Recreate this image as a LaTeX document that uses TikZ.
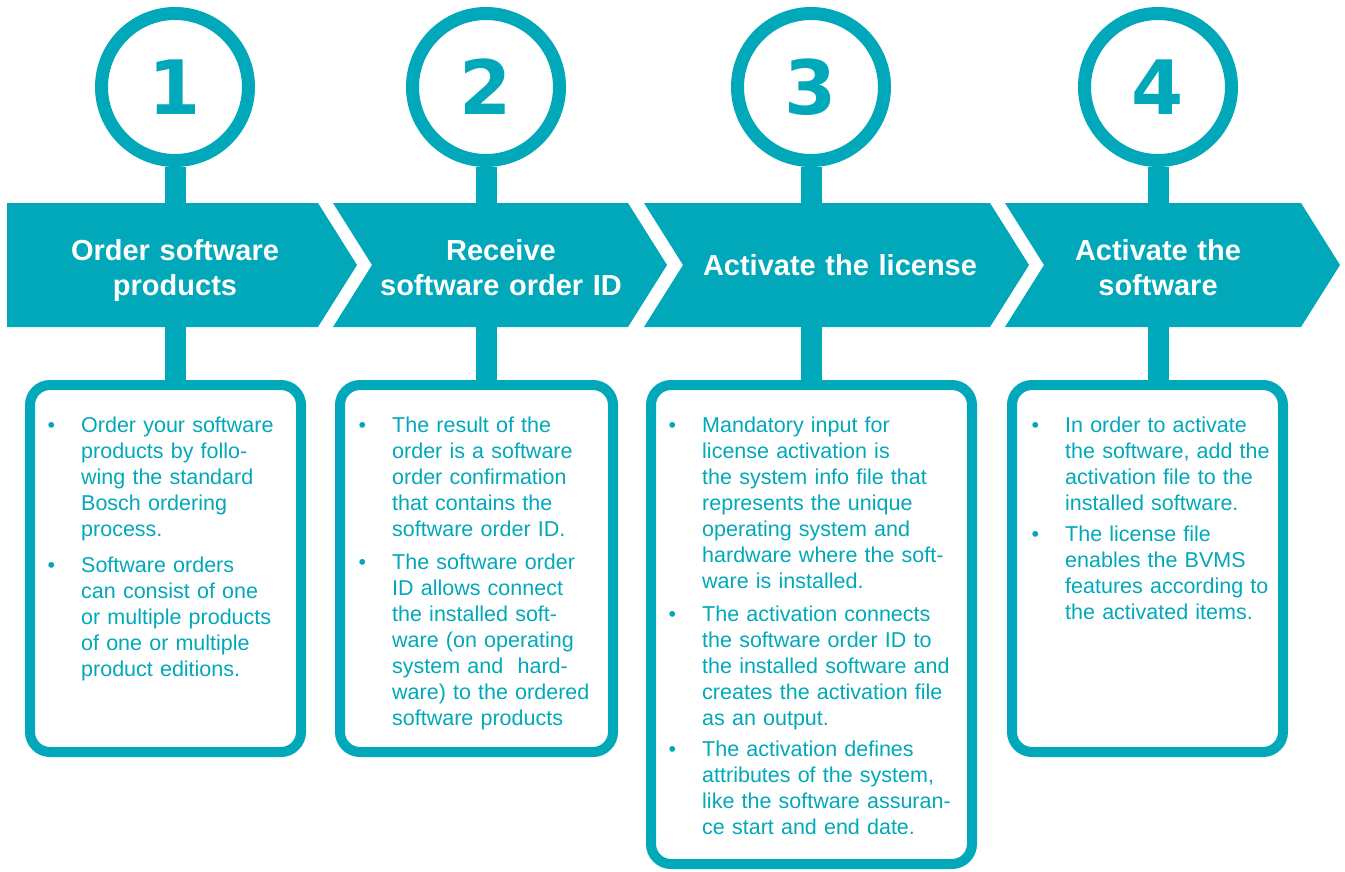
\documentclass[tikz,border=0pt]{standalone}
\usepackage{fontspec}
\setmainfont{Liberation Sans}
\newfontfamily\digitfont{DejaVu Sans}
\definecolor{boschteal}{RGB}{0,168,186}
\newcommand\bul{\leavevmode\llap{\textbullet\hspace{26pt}}}

\begin{document}
\begin{tikzpicture}[x=1pt, y=-1pt]
\tikzset{ num/.style={circle, draw=boschteal, line width=13pt, minimum size=147pt, inner sep=0pt,
            text=boschteal, font=\digitfont\bfseries\fontsize{75}{75}\selectfont},
          card/.style={draw=boschteal, line width=10pt, rounded corners=20pt, inner sep=0pt},
          stem/.style={boschteal, line width=21pt},
          chevron/.style={fill=boschteal},
          title/.style={text=white, font=\bfseries\fontsize{29}{35}\selectfont, align=center,
            text width=330pt, inner sep=0pt, anchor=base},
          note/.style={text=boschteal, font=\fontsize{21.5}{26}\selectfont, align=left,
            text width=280pt, inner sep=0pt, anchor=base west},  }

\useasboundingbox (0,0) rectangle (1345,871);

%\draw [lightgray, dashed](0,0) grid[step=100] (1345,871);

\node [num] (n1) at (175,87)  {1};
\node [num] (n2) at (486,87)  {2};
\node [num] (n3) at (811,87)  {3};
\node [num] (n4) at (1158,87) {4};

\node [card, minimum width=271pt, minimum height=367pt] (b1) at (165.5,568.5)  {};
\node [card, minimum width=273pt, minimum height=367pt] (b2) at (476.5,568.5)  {};
\node [card, minimum width=321pt, minimum height=479pt] (b3) at (811.5,624.5)  {};
\node [card, minimum width=271pt, minimum height=367pt] (b4) at (1147.5,568.5) {};

\foreach \i in {1,...,4}
  \draw [stem] (n\i.south) -- (n\i.south |- b\i.north);

\foreach \l/\n/\r in {7/7/318, 333/372/628, 644/683/990, 1005/1044/1301}
  \fill [chevron] (\l,203) -- (\r,203) -- (\r+39,265) -- (\r,327) -- (\l,327) -- (\n,265) -- cycle;

\node [title] (t1) at (175,260)  {Order software\\products};
\node [title] (t2) at (501,260)  {Receive\\software order ID};
\node [title] (t3) at (840,275)  {Activate the license};
\node [title] (t4) at (1158,260) {Activate the\\software};

\node [note] (x1) at (81,432) {\bul Order your software\\products by follo-\\wing the standard\\Bosch ordering\\process.\\[10pt]
  \bul Software orders\\can consist of one\\or multiple products\\of one or multiple\\product editions.};
\node [note] (x2) at (392,432) {\bul The result of the\\order is a software\\order confirmation\\that contains the\\software order ID.\\[7pt]
  \bul The software order\\ID allows connect\\the installed soft-\\ware (on operating\\system and\ \ hard-\\ware) to the ordered\\software products};
\node [note] (x3) at (702,432) {\bul Mandatory input for\\license activation is\\the system info file that\\represents the unique\\operating system and\\hardware where the soft-\\ware is installed.\\[7pt]
  \bul The activation connects\\the software order ID to\\the installed software and\\creates the activation file\\as an output.\\[5pt]
  \bul The activation defines\\attributes of the system,\\like the software assuran-\\ce start and end date.};
\node [note] (x4) at (1065,432) {\bul In order to activate\\the software, add the\\activation file to the\\installed software.\\[5pt]
  \bul The license file\\enables the BVMS\\features according to\\the activated items.};
\end{tikzpicture}
\end{document}
